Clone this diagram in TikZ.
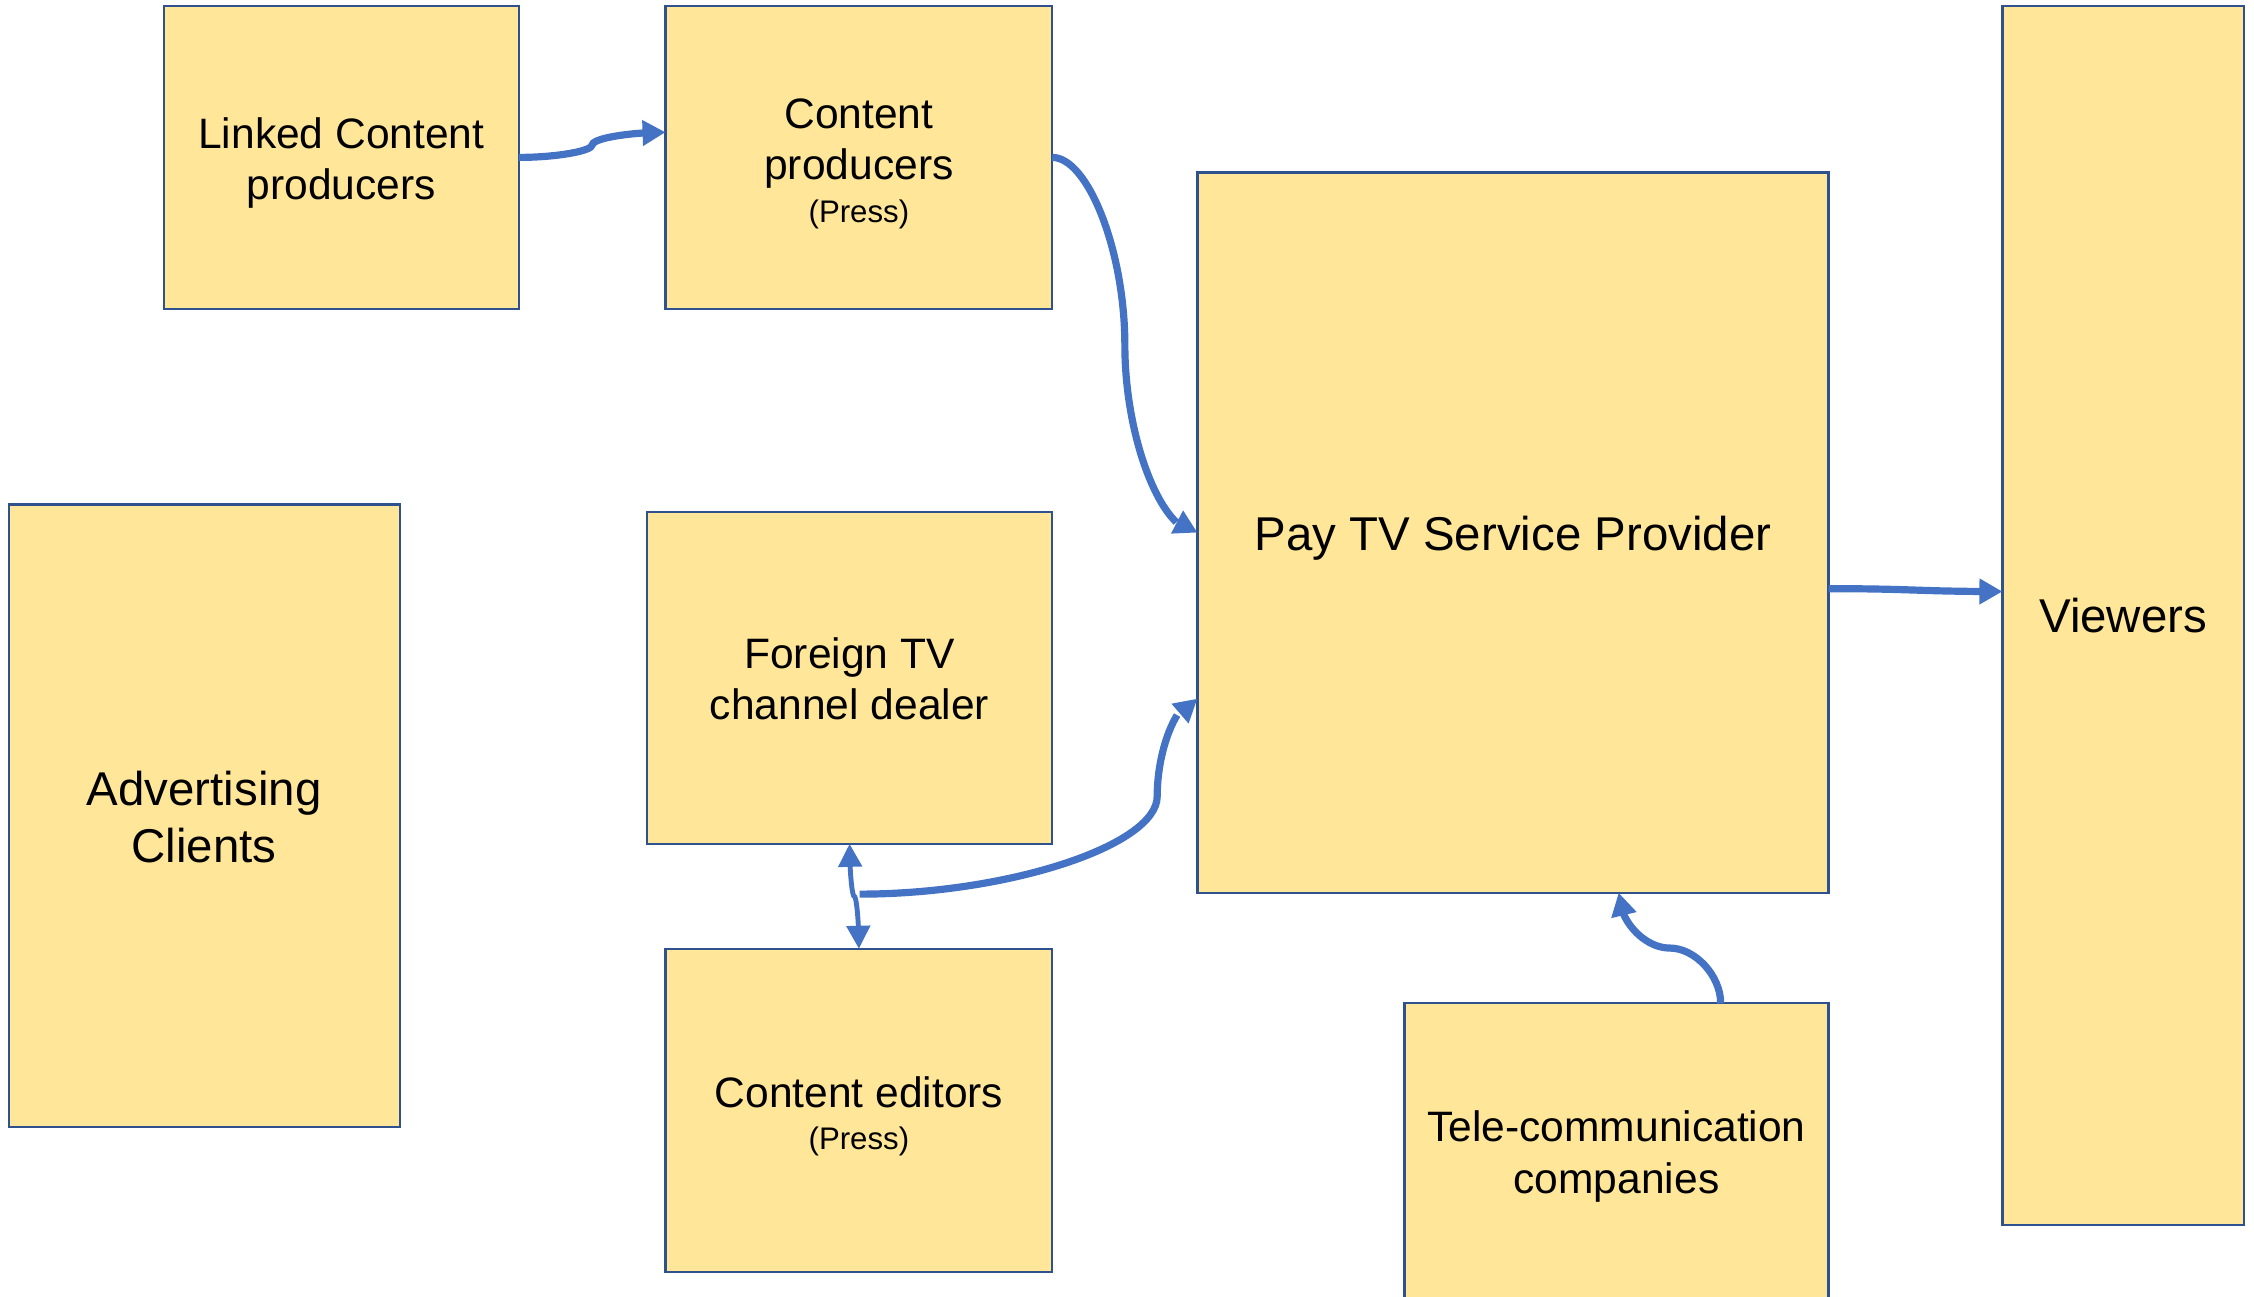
\documentclass[tikz,border=0pt]{standalone}
\usepackage{fontspec}
\setmainfont{Liberation Sans}
\usetikzlibrary{arrows.meta,bending,calc}

\definecolor{boxfill}{HTML}{FFE699}
\definecolor{boxline}{HTML}{2F528F}
\definecolor{linkblue}{HTML}{4472C4}

\newcommand{\txtnorm}{\fontsize{29.6}{35.5}\selectfont}
\newcommand{\txtbig}{\fontsize{33}{40}\selectfont}
\newcommand{\txtsmall}{\fontsize{21.7}{26}\selectfont}

\tikzset{
  box/.style={draw=boxline, fill=boxfill, line width=1.5pt, inner sep=0pt,
    outer sep=0pt},
  lbl/.style={inner sep=0pt, align=center, text=black, font=\txtnorm},
  biglbl/.style={lbl, font=\txtbig},
  link/.style={draw=linkblue, line width=5pt,
    -{Triangle[length=16pt,width=17pt,flex]}},
  dlink/.style={draw=linkblue, line width=3.4pt,
    {Triangle[length=16pt,width=16pt,flex]}-{Triangle[length=16pt,width=16pt,flex]}},
}

\begin{document}
\begin{tikzpicture}[x=1pt,y=-1pt]
  \fill[white] (0,0) rectangle (1568,902);
  \useasboundingbox (0,0) rectangle (1568,902);

  % boxes
  \node[box, minimum width=247pt, minimum height=211pt] (lcp) at (237.5,109.5) {};
  \node[box, minimum width=269pt, minimum height=211pt] (cp) at (597.5,109.5) {};
  \node[box, minimum width=439pt, minimum height=501pt] (pay) at (1052.5,370.5) {};
  \node[box, minimum width=168pt, minimum height=848pt] (view) at (1477,428) {};
  \node[box, minimum width=272pt, minimum height=433pt] (adv) at (142,567.5) {};
  \node[box, minimum width=282pt, minimum height=231pt] (fr) at (591,471.5) {};
  \node[box, minimum width=269pt, minimum height=225pt] (ce) at (597.5,772.5) {};
  \node[box, minimum width=295pt, minimum height=209pt] (tel) at (1124.5,802.5) {};

  % box captions
  \node[lbl] (lcpt) at ($(lcp.center)+(0,4)$) {Linked Content\\producers};
  \node[lbl] (cpt) at ($(cp.center)+(0,4.5)$)
    {Content\\producers\\[-6pt]{\txtsmall (Press)}};
  \node[biglbl] (payt) at ($(pay.center)+(0,4)$) {Pay TV Service Provider};
  \node[biglbl] (viewt) at (view.center) {Viewers};
  \node[biglbl] (advt) at ($(adv.center)+(0,1)$) {Advertising\\Clients};
  \node[lbl] (frt) at ($(fr.center)+(0,1)$) {Foreign TV\\channel dealer};
  \node[lbl] (cet) at ($(ce.center)+(0,4)$)
    {Content editors\\[-6pt]{\txtsmall (Press)}};
  \node[lbl] (telt) at ($(tel.center)+(0,2)$) {Tele-communication\\companies};

  % connector end points and bends
  \coordinate (s1) at (lcp.east);
  \coordinate (e1) at ([yshift=17.5pt]cp.west);
  \coordinate (m1) at ($(s1)!0.5!(e1)$);

  \coordinate (s2) at (cp.east);
  \coordinate (e2) at (pay.west);
  \coordinate (m2) at ($(s2)!0.5!(e2)$);

  \coordinate (s3) at ([yshift=-39pt]pay.east);
  \coordinate (e3) at ([yshift=16.5pt]view.west);

  \coordinate (jn) at (598,622);
  \coordinate (e5) at ([yshift=-115.5pt]pay.west);
  \coordinate (m5) at (805,554);

  \coordinate (s6) at ([xshift=72.5pt]tel.north);
  \coordinate (e6) at ([xshift=73.5pt]pay.south);
  \coordinate (m6) at ($(s6)!0.5!(e6)$);

  \coordinate (m7) at ($(fr.south)!0.5!(ce.north)$);

  % connectors
  \draw[link] (s1) .. controls +(25.5,0) and +(0,4.4) .. (m1)
    .. controls +(0,-4.4) and +(-25.5,0) .. (e1);
  \draw[link] (s2) .. controls +(25,0) and +(0,-65) .. (m2)
    .. controls +(0,65) and +(-25,0) .. (e2);
  \draw[link] (s3) .. controls +(60,0) and +(-60,0) .. (e3);
  \draw[link] (jn) .. controls +(103.5,0) and +(0,34) .. (m5)
    .. controls +(0,-34) and +(-13.5,0) .. (e5);
  \draw[link] (s6) .. controls +(0,-19.25) and +(17.75,0) .. (m6)
    .. controls +(-17.75,0) and +(0,19.25) .. (e6);
  \draw[dlink] (fr.south) .. controls +(0,18.25) and +(-1.6,0) .. (m7)
    .. controls +(1.6,0) and +(0,-18.25) .. (ce.north);
\end{tikzpicture}
\end{document}
